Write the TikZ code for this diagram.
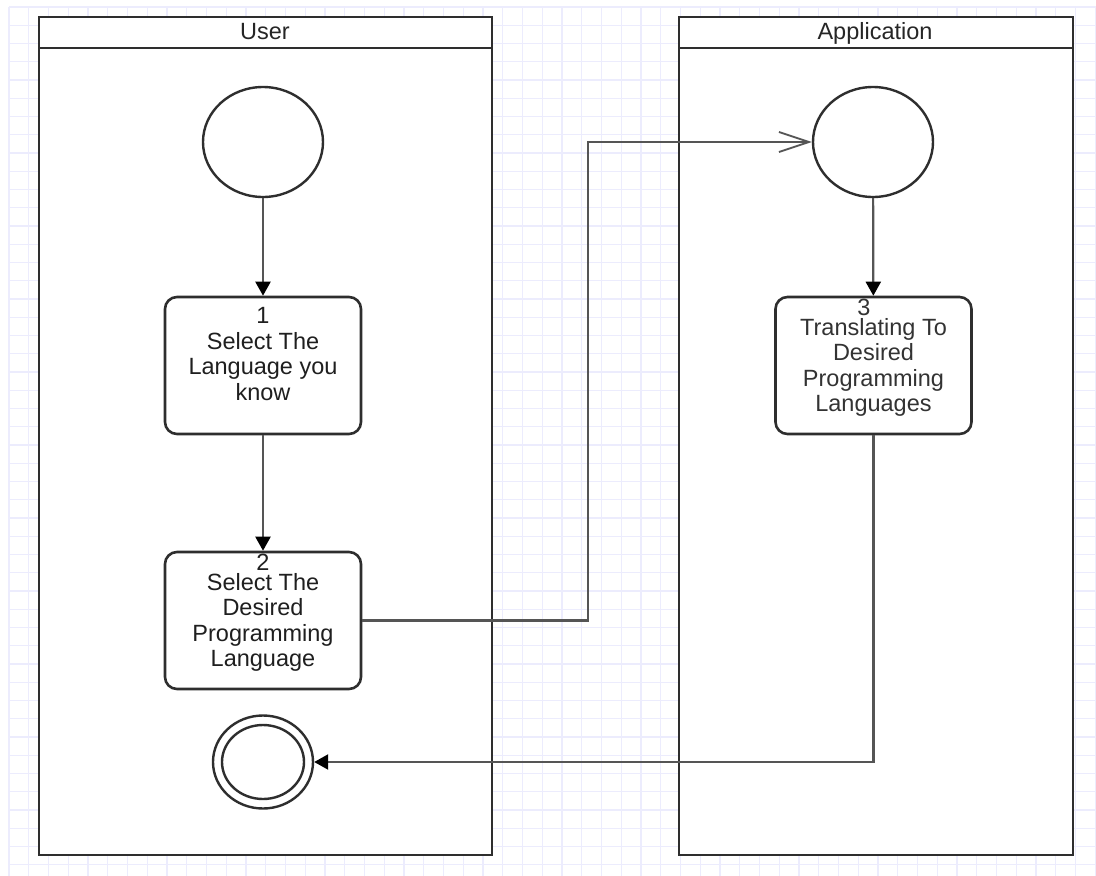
\documentclass[tikz,border=0pt]{standalone}
\usepackage{fontspec}
\setmainfont{Liberation Sans}
\usetikzlibrary{arrows.meta,shapes.geometric}

\definecolor{gridc}{HTML}{ECECFD}
\definecolor{edge}{HTML}{2E2E2E}
\definecolor{wire}{HTML}{555555}

\tikzset{
  gridline/.style={draw=gridc, line width=1.4pt},
  lane/.style={rectangle, draw=edge, fill=white, line width=2pt, inner sep=0pt, anchor=north west},
  lanetitle/.style={font=\fontsize{23.5}{26}\selectfont, text=black!85, inner sep=0pt, anchor=base},
  startnode/.style={ellipse, draw=edge, fill=white, line width=2.4pt, inner sep=0pt,
                    minimum width=120pt, minimum height=110pt},
  stepbox/.style={rectangle, rounded corners=12pt, draw=edge, fill=white, line width=2.6pt,
                  minimum width=196pt, minimum height=137pt, inner sep=0pt},
  steptext/.style={align=center, inner sep=0pt, text=black!88,
                   font=\fontsize{23.5}{25.5}\selectfont},
  stepnum/.style={inner sep=0pt, text=black!88, font=\fontsize{23.5}{25.5}\selectfont,
                  text height=16pt, text depth=0pt, anchor=base},
  flow/.style={draw=wire, line width=2.2pt, -{Triangle[length=14pt,width=15pt,fill=black,color=black]}},
  message/.style={draw=wire, line width=2.2pt, -{Straight Barb[length=30pt,width=20pt,line width=1.8pt]}}
}

\begin{document}
\begin{tikzpicture}[x=1pt,y=-1pt]
\useasboundingbox (0,0) rectangle (1096,876);
\fill[white] (0,0) rectangle (1096,876);

% background grid
\foreach \i in {0,...,55}
  \draw[gridline] ({9+19.75*\i},7) -- ({9+19.75*\i},876);
\foreach \j in {0,...,47}
  \draw[gridline] (9,{7+18.25*\j}) -- (1096,{7+18.25*\j});

% swimlanes
\node[lane, minimum width=453pt, minimum height=838pt] (userlane) at (38,16) {};
\node[lane, minimum width=394pt, minimum height=838pt] (applane) at (678,16) {};
\draw[draw=edge, line width=2pt] (38,48) -- (491,48);
\draw[draw=edge, line width=2pt] (678,48) -- (1072,48);
\node[lanetitle] (usertitle) at (265,39.5) {User};
\node[lanetitle] (apptitle) at (875,39.5) {Application};

% user lane
\node[startnode] (s1) at (263,142) {};
\node[stepbox] (b1) at (263,365.5) {};
\node[stepbox] (b2) at (263,620.5) {};
\node[ellipse, draw=edge, fill=white, line width=2.4pt, inner sep=0pt,
      minimum width=100pt, minimum height=93pt] (endo) at (263,762) {};
\node[ellipse, draw=edge, line width=2.4pt, inner sep=0pt,
      minimum width=82pt, minimum height=74pt] (endi) at (263,762) {};

% application lane
\node[startnode] (s2) at (873,142) {};
\node[stepbox] (b3) at (873.5,365.5) {};

% step labels
\node[stepnum] (n1) at (263,323) {1};
\node[steptext] (t1) at (263,366.5) {Select The\\Language you\\know};
\node[stepnum] (n2) at (263,570) {2};
\node[steptext] (t2) at (263,622.5) {Select The\\Desired\\Programming\\Language};
\node[stepnum, text=black!80] (n3) at (864,315) {3};
\node[steptext, text=black!80] (t3) at (873.5,367.5) {Translating To\\Desired\\Programming\\Languages};

% connectors
\coordinate (bend) at (588,142);
\draw[flow] (s1) -- (b1);
\draw[flow] (b1) -- (b2);
\draw[flow] (s2) -- (b3);
\draw[message] (b2.east) -| (bend) -- (s2.west);
\draw[flow] (b3.south) |- (endo.east);
\end{tikzpicture}
\end{document}
